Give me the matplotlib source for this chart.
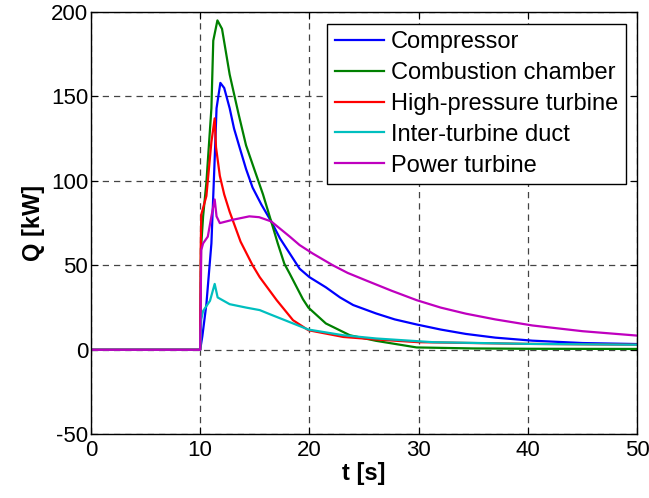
import numpy as np
import matplotlib.pyplot as plt

# series (t in s, Q in kW)
t_comp = [0, 10.0, 10.2, 10.57, 11.03, 11.33, 11.5, 11.85, 12.2, 12.7, 13.1, 13.6,
          14.2, 14.8, 15.6, 16.5, 17.3, 18.2, 19.1, 20.0, 21.5, 22.8, 24.0, 26.1,
          27.8, 29.8, 32.0, 34.3, 37.0, 40.4, 45, 50]
q_comp = [0, 0, 8, 27, 63, 113, 143, 158, 155, 143, 131, 120,
          107, 96, 86, 76, 66, 57, 48, 43, 37, 31, 26.5, 21.5,
          18, 15, 12, 9.4, 7.2, 5.4, 4, 3.4]

t_comb = [0, 10.0, 10.08, 10.27, 10.57, 11.03, 11.2, 11.58, 12.0, 12.7, 13.5, 14.2,
          15.0, 15.75, 16.5, 17.1, 17.7, 18.2, 19.4, 19.9, 21.5, 23.7, 26.1,
          29.8, 35, 40, 50]
q_comb = [0, 0, 60, 79, 99, 143, 183, 195, 190, 163, 140, 121,
          106, 92, 76, 63, 51, 45, 30, 25, 15.6, 8.6, 5.3,
          1.4, 0.8, 0.6, 0.5]

t_hpt = [0, 10.0, 10.05, 10.1, 10.57, 11.03, 11.33, 11.45, 11.8, 12.2, 12.7, 13.7,
         14.8, 15.45, 17.0, 18.5, 19.9, 23.1, 26.1, 30, 40, 50]
q_hpt = [0, 0, 59, 80, 91, 123, 137, 120, 103, 92, 81.7, 64,
         50, 43, 29.4, 17.5, 11.6, 7.6, 6.1, 4.5, 3.5, 3]

t_itd = [0, 10.0, 10.1, 10.27, 10.9, 11.33, 11.6, 12.7, 14.2, 15.45, 16.4, 18.5,
         19.9, 23.1, 26.1, 31.3, 40, 50]
q_itd = [0, 0, 18, 23, 29, 39, 31, 27, 25, 23.5, 21, 15.6,
         12, 8.6, 6.7, 4.5, 3.5, 3]

t_pt = [0, 10.0, 10.1, 10.27, 10.7, 11.03, 11.33, 11.5, 11.8, 13, 14.5, 15.4,
        16.5, 18.2, 19.1, 20.3, 22.15, 23.5, 25.2, 27.5, 29.8, 32.0, 34.3, 37.0,
        40.4, 45, 50]
q_pt = [0, 0, 59, 63, 67, 79, 89, 79, 75, 77, 79, 78.5,
        76, 67, 62, 57, 50, 45.5, 41, 35, 29.4, 25, 21.4, 18,
        14.4, 11, 8.4]

labels = ['Compressor', 'Combustion chamber', 'High-pressure turbine',
          'Inter-turbine duct', 'Power turbine']
colors = [(0, 0, 1), (0, 0.5, 0), (1, 0, 0), (0, 0.75, 0.75), (0.75, 0, 0.75)]

plt.rcParams['font.family'] = ['Liberation Sans', 'DejaVu Sans']
plt.rcParams['axes.unicode_minus'] = False

fig = plt.figure(figsize=(6.49, 4.98), dpi=100)
ax = fig.add_axes([0.140, 0.128, 0.842, 0.848])

series = [(t_comp, q_comp), (t_comb, q_comb), (t_hpt, q_hpt),
          (t_itd, q_itd), (t_pt, q_pt)]
for (t, q), lab, c in zip(series, labels, colors):
    ax.plot(t, q, color=c, lw=1.6, label=lab)

ax.set_xlim(0, 50)
ax.set_ylim(-50, 200)
ax.set_xticks(np.arange(0, 51, 10))
ax.set_yticks(np.arange(-50, 201, 50))
ax.tick_params(direction='in', labelsize=16, length=5, top=True, right=True)
ax.tick_params(axis='x', pad=4)
ax.tick_params(axis='y', pad=2)
ax.grid(True, color='#444444', linestyle=(0, (5, 4)), lw=0.9)
for sp in ax.spines.values():
    sp.set_linewidth(1.0)

ax.set_xlabel('t [s]', fontsize=17, fontweight='bold', labelpad=1)
ax.set_ylabel('Q [kW]', fontsize=17, fontweight='bold', labelpad=4)

leg = ax.legend(loc='upper right', fontsize=17, frameon=True, fancybox=False,
                framealpha=1, edgecolor='black', handlelength=2.1,
                handletextpad=0.3, borderpad=0.3, labelspacing=0.38,
                borderaxespad=0.5)
leg.get_frame().set_linewidth(1.0)

fig.savefig('out.png', dpi=100)
